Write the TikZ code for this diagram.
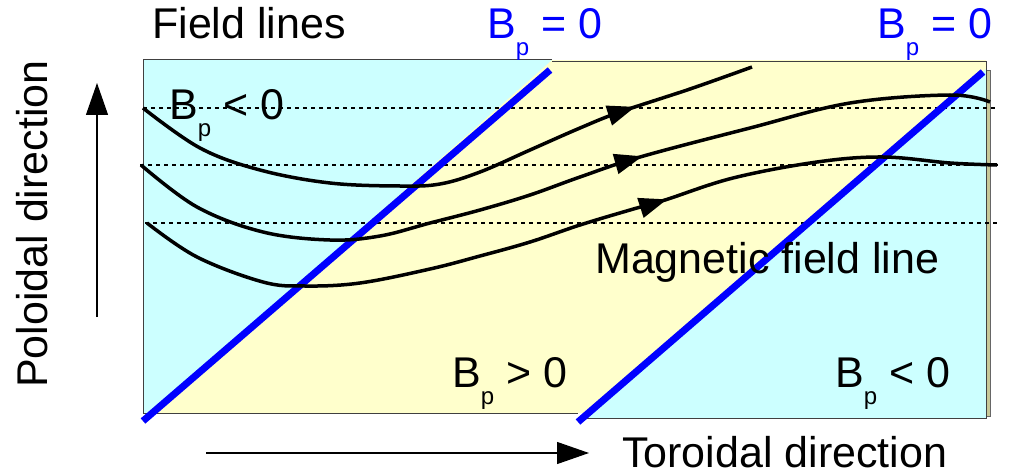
\documentclass[tikz,border=0pt]{standalone}
\usepackage{fontspec}
\setmainfont{Liberation Sans}
\usetikzlibrary{arrows.meta, decorations.markings}

\definecolor{cyanbg}{HTML}{CCFFFF}
\definecolor{yellowbg}{HTML}{FFFFCC}
\definecolor{edgeshade}{HTML}{C8C898}
\newcommand{\bp}{B\raisebox{-17pt}{\fontsize{24}{24}\selectfont p}}

\begin{document}
\begin{tikzpicture}[x=1pt, y=-1pt]
  % Styles
  \tikzset{
    frame/.style={draw=black!75, line width=1pt},
    guide/.style={draw, line width=1.1pt, dash pattern=on 4pt off 4pt},
    bzero/.style={draw=blue, line width=7pt},
    fieldline/.style={draw, line width=3.5pt, line join=round},
    arrowat/.style={postaction={decorate}, decoration={markings,
      mark=at position #1 with {\arrow{Triangle[length=28pt,width=20pt]}}}},
    axis/.style={draw, line width=1.2pt, -{Triangle[length=32pt,width=22pt]}},
    txt/.style={anchor=base west, inner sep=0pt, font=\fontsize{43}{48}\selectfont},
  }
  \useasboundingbox (0,0) rectangle (1011,476);

  % Regions
  \fill[yellowbg] (143,60) rectangle (986,413);
  \fill[cyanbg] (143,60) -- (552,60) -- (152,413) -- (143,413) -- cycle;
  \fill[cyanbg] (986,69) -- (986,418) -- (581,418) -- cycle;
  \fill[edgeshade, draw=black!60, line width=0.6pt] (986,70) rectangle (990,416);
  \draw[frame] (552,60) -- (143,60) -- (143,413) -- (578,413);
  \draw[frame] (552,62) -- (986,62) -- (986,418) -- (581,418);

  % Guide lines
  \draw[guide] (143,108) -- (998,108);
  \draw[guide] (140,165) -- (998,165);
  \draw[guide] (145,223) -- (998,223);

  % Bp = 0 lines
  \draw[bzero] (143,421) -- (550,70);
  \draw[bzero] (578,422) -- (983,72);

  % Field lines
  \draw[fieldline, arrowat=0.81] plot[smooth, tension=0.6] coordinates {
    (143,108) (200,148) (260,170) (330,183) (400,186) (440,184) (480,172)
    (530,150) (580,128) (620,112) (690,89) (752,67)};
  \draw[fieldline, arrowat=0.60] plot[smooth, tension=0.6] coordinates {
    (141,165) (197,207) (263,232) (330,240) (380,236) (430,223) (480,210)
    (530,195) (580,177) (640,157) (750,128) (850,103) (950,95) (990,102)};
  \draw[fieldline, arrowat=0.62] plot[smooth, tension=0.6] coordinates {
    (147,223) (197,257) (263,282) (305,286) (360,283) (430,269)
    (480,256) (530,242) (580,225) (630,210) (665,200) (733,178) (817,162)
    (883,157) (950,163) (997,165)};

  % Axes
  \coordinate (pol-start) at (97,317);
  \coordinate (pol-end) at (97,83);
  \coordinate (tor-start) at (206,453);
  \coordinate (tor-end) at (589,453);
  \draw[axis] (pol-start) -- (pol-end);
  \draw[axis] (tor-start) -- (tor-end);

  % Labels
  \node[txt] (fieldlines) at (152,39) {Field lines};
  \node[txt, text=blue] (bzeroL) at (487,39) {\bp{} = 0};
  \node[txt, text=blue] (bzeroR) at (877,39) {\bp{} = 0};
  \node[txt] (bneg1) at (169,120) {\bp{} < 0};
  \node[txt] (bpos) at (452,387) {\bp{} > 0};
  \node[txt] (bneg2) at (835,387) {\bp{} < 0};
  \node[txt] (magline) at (595,273) {Magnetic field line};
  \node[txt] (torlabel) at (622,467) {Toroidal direction};
  \node[txt, rotate=90] (pollabel) at (47,388) {Poloidal direction};
\end{tikzpicture}
\end{document}
